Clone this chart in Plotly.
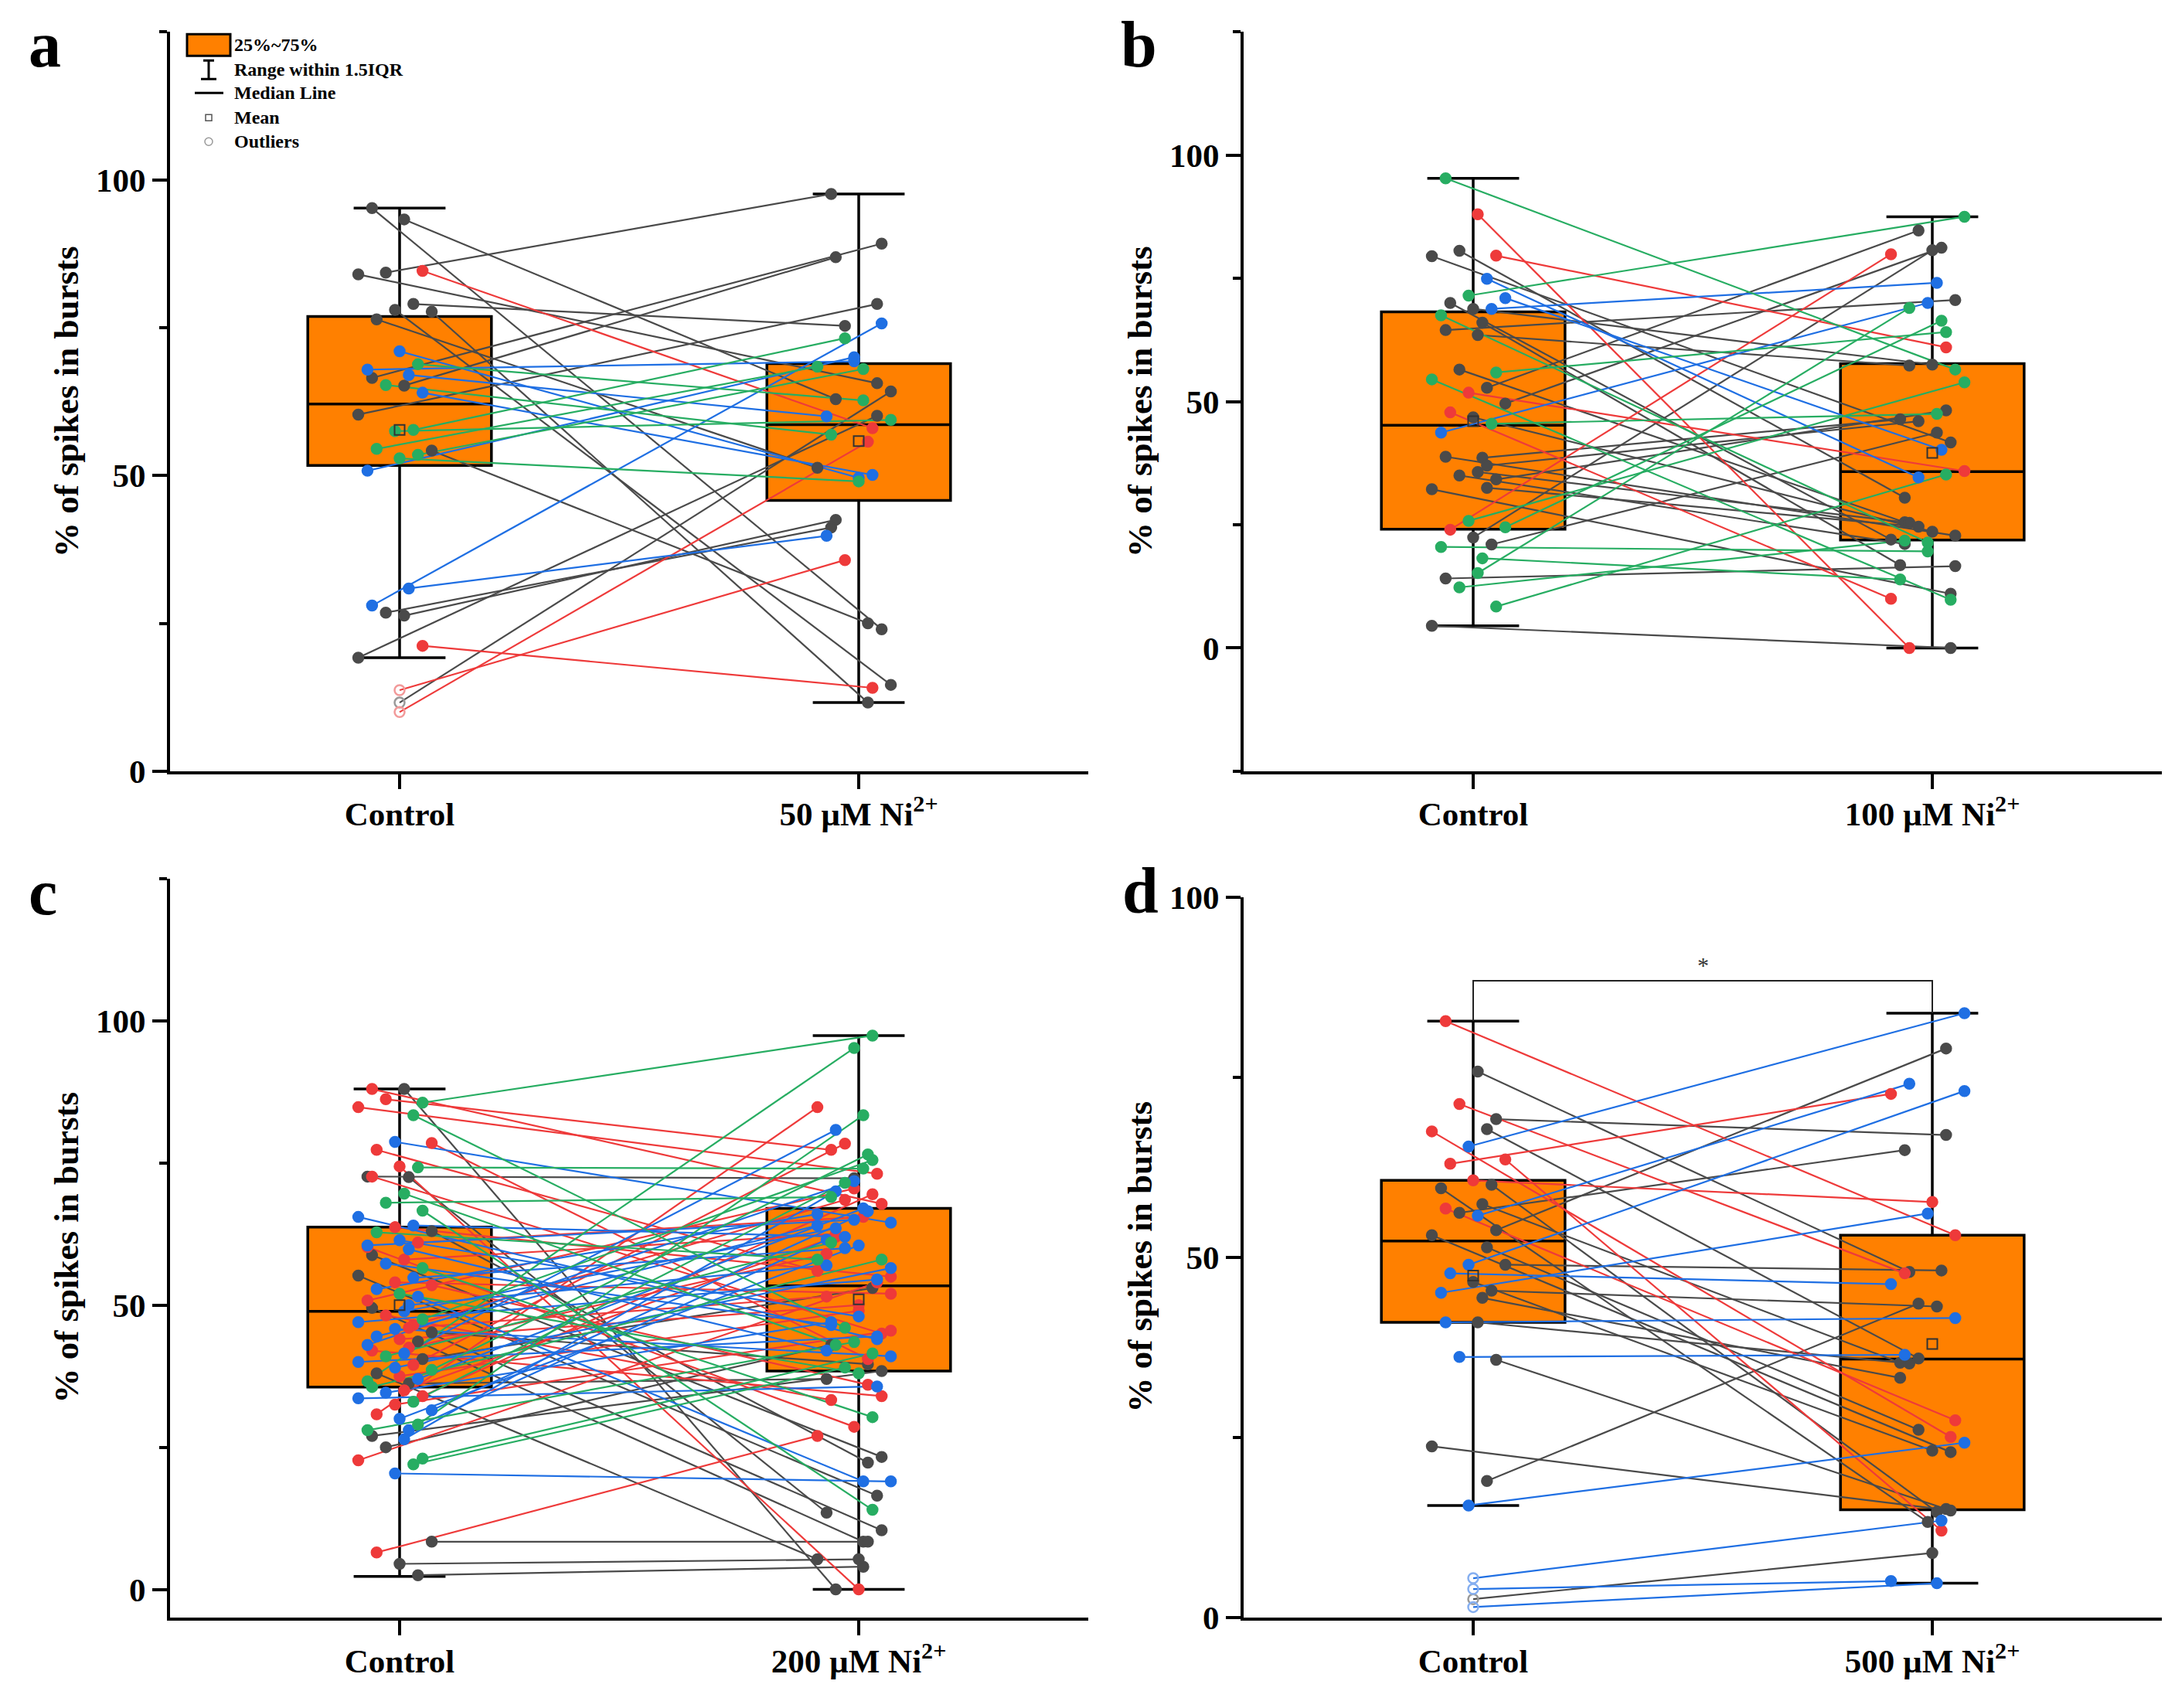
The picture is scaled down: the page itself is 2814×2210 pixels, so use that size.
import plotly.graph_objects as go

W = 2814
FIG_H = 2227          # figure height that fills the photographed page
Y_SCALE = 1.0211      # reference pixel -> figure pixel, vertical
Y_SHIFT = 29.3
FONT = "Liberation Serif"
ORANGE = "#ff8000"

# colour codes per cell: k = gray, r = red, b = blue, g = green
COLORS = {"k": "#4a4a4a", "r": "#ee3a3a", "b": "#1f6fe3", "g": "#27ad62"}
OUT_COLORS = {"k": "#9a9a9a", "r": "#f29a9a", "b": "#86aff0", "g": "#8fd6ae"}

# ---------------- panel a : 50 uM ----------------
A_LABELS = ["Control", "50 µM Ni<sup>2+</sup>"]
A_CTRL = [95.2, 93.3, 84.3, 84.6, 84.0, 79.0, 78.0, 77.7, 76.4, 71.0, 68.8, 67.9,
          67.0, 66.5, 65.2, 65.3, 64.0, 60.3, 57.7, 57.5, 54.2, 54.5, 52.9, 53.5,
          50.8, 30.9, 28.0, 26.3, 26.8, 21.2, 19.2, 13.7, 11.6, 10.0]
A_TRT = [24.0, 62.9, 97.6, 58.0, 65.6, 75.3, 14.6, 11.6, 51.3, 49.6, 62.7, 69.3,
         60.0, 89.2, 86.9, 56.9, 50.1, 79.0, 73.2, 59.4, 25.0, 68.4, 49.0, 68.0,
         70.0, 39.8, 75.7, 42.5, 41.2, 14.1, 60.1, 35.7, 64.2, 55.7]
A_COL = "kkkrkkkkkbgbbkkgbkggkgggbbbkkrkrkr"
A_Q1 = [51.7, 45.8]
A_MED = [62.1, 58.6]
A_Q3 = [76.9, 68.9]
A_LO = [19.2, 11.6]
A_HI = [95.2, 97.6]
A_MEAN = [57.7, 55.8]

# ---------------- panel b : 100 uM ----------------
B_LABELS = ["Control", "100 µM Ni<sup>2+</sup>"]
B_CTRL = [95.3, 88.0, 80.6, 79.6, 79.5, 74.9, 71.5, 71.0, 70.0, 68.8, 68.8, 67.5,
          66.0, 64.5, 63.5, 56.5, 55.9, 54.5, 52.8, 51.8, 49.6, 47.8, 46.8, 45.5,
          43.7, 38.6, 38.8, 35.7, 35.0, 34.2, 32.2, 32.5, 25.8, 24.5, 24.0, 22.4,
          21.0, 20.5, 18.2, 14.1, 15.2, 12.3, 8.4, 4.5, 37.0]
B_TRT = [56.5, 0.0, 30.5, 61.0, 41.7, 34.6, 87.5, 40.2, 22.0, 57.5, 74.1, 21.4,
         16.8, 70.6, 57.3, 25.5, 64.1, 9.8, 84.7, 35.9, 81.2, 10.0, 23.6, 47.5,
         70.0, 46.4, 22.8, 25.4, 21.1, 48.2, 11.0, 24.6, 53.9, 66.4, 79.9, 80.7,
         43.7, 19.6, 13.9, 16.6, 69.0, 21.8, 35.2, 0.0, 46.0]
B_COL = "grkrkbgbkkbgkkkkggkrkrkgbkkkkkkkggrkkggkgggkk"
B_Q1 = [24.1, 21.9]
B_MED = [45.2, 35.8]
B_Q3 = [68.2, 57.7]
B_LO = [4.5, 0.0]
B_HI = [95.3, 87.5]
B_MEAN = [46.0, 39.6]

# ---------------- panel c : 200 uM ----------------
C_LABELS = ["Control", "200 µM Ni<sup>2+</sup>"]
C_CTRL = [88.0, 88.0, 86.2, 85.6, 84.8, 83.4, 78.7, 78.5, 77.3, 74.4, 74.2, 72.6,
          72.5, 72.6, 69.6, 68.0, 66.6, 65.5, 64.0, 63.7, 63.0, 62.8, 61.4, 61.0,
          60.2, 59.8, 58.8, 58.0, 57.3, 56.5, 55.2, 54.8, 54.0, 53.5, 52.8, 52.0,
          51.5, 50.8, 50.0, 49.5, 48.9, 48.2, 47.5, 47.0, 46.5, 45.8, 45.2, 44.5,
          44.0, 43.6, 43.0, 42.5, 42.0, 41.5, 41.0, 40.5, 40.0, 39.5, 39.0, 38.6,
          38.0, 37.5, 37.0, 36.6, 36.2, 35.6, 35.0, 34.6, 34.0, 33.6, 33.0, 32.5,
          31.5, 30.8, 30.0, 29.0, 28.0, 28.0, 27.0, 26.4, 25.0, 23.0, 22.7, 22.0,
          20.4, 8.4, 6.5, 4.5, 2.5, 60.5, 46.0]
C_TRT = [67.8, 0.0, 77.3, 97.4, 73.1, 46.0, 64.5, 40.5, 56.0, 0.0, 74.0, 72.3,
         13.5, 45.0, 43.0, 69.0, 14.0, 44.0, 62.0, 55.0, 22.3, 58.0, 48.0, 65.5,
         28.6, 42.0, 23.3, 62.5, 46.5, 30.3, 16.5, 60.0, 52.0, 36.0, 66.0, 38.0,
         19.0, 70.5, 57.0, 10.4, 63.5, 33.3, 75.5, 54.5, 68.5, 41.0, 39.6, 64.0,
         50.0, 8.4, 71.8, 59.0, 34.0, 80.8, 61.0, 53.0, 44.5, 78.4, 56.5, 76.5,
         5.3, 49.0, 67.0, 95.2, 37.0, 58.0, 62.0, 47.0, 69.5, 35.7, 71.5, 45.5,
         66.5, 84.8, 60.5, 83.4, 43.5, 61.5, 38.4, 70.0, 43.0, 41.5, 54.0, 39.0,
         19.0, 8.4, 27.0, 5.3, 4.0, 65.0, 51.5]
C_COL = ("rkrgrgbrrrgkkrgggbbrkgbrrbkrbgkbrrbgbrbkbrgbrbkbrkbrrbgkbrbg"
         "krbgkgrbrbgrbrbggbkbkgrgbkrkkbr")
C_Q1 = [35.6, 38.4]
C_MED = [48.9, 53.4]
C_Q3 = [63.7, 67.0]
C_LO = [2.3, 0.0]
C_HI = [88.0, 97.4]
C_MEAN = [50.0, 51.0]

# ---------------- panel d : 500 uM ----------------
D_LABELS = ["Control", "500 µM Ni<sup>2+</sup>"]
D_CTRL = [82.8, 75.8, 71.3, 69.2, 67.5, 67.8, 65.4, 63.6, 63.0, 60.7, 60.1, 59.6,
          57.4, 56.8, 55.8, 56.2, 53.8, 53.1, 51.4, 49.0, 49.0, 47.8, 46.6, 45.4,
          45.1, 44.4, 41.0, 41.0, 36.2, 35.8, 23.8, 19.0, 15.6, 5.5, 4.0, 2.6, 1.5]
D_TRT = [53.1, 48.0, 47.8, 67.0, 25.1, 36.0, 83.9, 12.1, 72.7, 57.7, 14.7, 13.3,
         35.4, 27.4, 74.1, 64.9, 79.0, 23.0, 26.1, 73.1, 48.2, 46.3, 23.2, 43.2,
         56.1, 33.3, 41.6, 35.3, 36.5, 15.1, 14.9, 43.6, 24.3, 13.5, 5.1, 9.0, 4.8]
D_COL = "rkrkrkbrrrkkkrbkkkkbkbkkbkbkbkkkbbbkb"
D_Q1 = [41.0, 15.0]
D_MED = [52.3, 35.9]
D_Q3 = [60.7, 53.1]
D_LO = [15.6, 4.8]
D_HI = [82.8, 83.9]
D_MEAN = [47.5, 38.0]
D_BRACKET = 88.4

JIT = [-0.06, 0.01, -0.03, 0.05, -0.09, 0.03, -0.01, 0.07, -0.05, 0.0, 0.04, -0.07, 0.02]


def px(x):
    return x / W


def py(y):
    # y measured in pixels of the 2210-tall reference picture
    return 1 - (Y_SCALE * y - Y_SHIFT) / FIG_H


fig = go.Figure()


def add_panel(n, ctrl, trt, cols, q1, med, q3, lo, hi, mean):
    xa = "x" if n == 1 else f"x{n}"
    ya = "y" if n == 1 else f"y{n}"
    fig.add_trace(go.Box(
        x=[0, 1], q1=q1, median=med, q3=q3, lowerfence=lo, upperfence=hi,
        width=0.4, whiskerwidth=0.5, fillcolor=ORANGE, boxpoints=False,
        line=dict(color="black", width=3.5), xaxis=xa, yaxis=ya,
        showlegend=False, hoverinfo="skip"))

    pos = {}
    for i, (c, t) in enumerate(zip(ctrl, trt)):
        xc = 0 if c < lo[0] or c > hi[0] else JIT[i % len(JIT)]
        xt = 1 + (0 if t < lo[1] or t > hi[1] else JIT[(i * 5 + 3) % len(JIT)])
        pos[i] = (xc, xt)

    for key in "krbg":
        xs, ys = [], []
        for i, (c, t) in enumerate(zip(ctrl, trt)):
            if cols[i] != key:
                continue
            xs += [pos[i][0], pos[i][1], None]
            ys += [c, t, None]
        fig.add_trace(go.Scatter(x=xs, y=ys, mode="lines", xaxis=xa, yaxis=ya,
                                 line=dict(color=COLORS[key], width=2.2),
                                 showlegend=False, hoverinfo="skip"))

    for key in "krbg":
        xs, ys, sym, mc = [], [], [], []
        for i, (c, t) in enumerate(zip(ctrl, trt)):
            if cols[i] != key:
                continue
            for j, v in enumerate((c, t)):
                out = v < lo[j] or v > hi[j]
                xs.append(pos[i][j])
                ys.append(v)
                sym.append("circle-open" if out else "circle")
                mc.append(OUT_COLORS[key] if out else COLORS[key])
        fig.add_trace(go.Scatter(x=xs, y=ys, mode="markers", xaxis=xa, yaxis=ya,
                                 marker=dict(size=13, symbol=sym, color=mc,
                                             line=dict(width=2.5, color=mc)),
                                 showlegend=False, hoverinfo="skip"))

    fig.add_trace(go.Scatter(x=[0, 1], y=mean, mode="markers", xaxis=xa, yaxis=ya,
                             marker=dict(size=13, symbol="square-open", color="#333333",
                                         line=dict(width=2)),
                             showlegend=False, hoverinfo="skip"))


add_panel(1, A_CTRL, A_TRT, A_COL, A_Q1, A_MED, A_Q3, A_LO, A_HI, A_MEAN)
add_panel(2, B_CTRL, B_TRT, B_COL, B_Q1, B_MED, B_Q3, B_LO, B_HI, B_MEAN)
add_panel(3, C_CTRL, C_TRT, C_COL, C_Q1, C_MED, C_Q3, C_LO, C_HI, C_MEAN)
add_panel(4, D_CTRL, D_TRT, D_COL, D_Q1, D_MED, D_Q3, D_LO, D_HI, D_MEAN)

# significance bracket in panel d
fig.add_trace(go.Scatter(x=[0, 0, 1, 1], y=[D_HI[0], D_BRACKET, D_BRACKET, D_HI[1]],
                         mode="lines", xaxis="x4", yaxis="y4",
                         line=dict(color="#222222", width=2),
                         showlegend=False, hoverinfo="skip"))

tickfont = dict(family=FONT, size=43, color="black", weight="bold")
axis_common = dict(showline=True, linecolor="black", linewidth=4, ticks="outside",
                   ticklen=19, tickwidth=4, tickcolor="black", showgrid=False,
                   zeroline=False, tickfont=tickfont, mirror=False)

domains = {
    1: ([212, 1400], [39, 996], [0, 125], A_LABELS),
    2: ([1601, 2789], [39, 996], [-25, 125], B_LABELS),
    3: ([212, 1400], [1135, 2092], [-5, 125], C_LABELS),
    4: ([1601, 2789], [1159, 2092], [0, 100], D_LABELS),
}
for n, (xd, yd, yr, labels) in domains.items():
    sx = "" if n == 1 else str(n)
    fig.update_layout(**{
        f"xaxis{sx}": dict(axis_common, domain=[px(xd[0]), px(xd[1])], range=[-0.5, 1.5],
                          tickvals=[0, 1], ticktext=labels, ticklabelstandoff=-4,
                          anchor=f"y{sx}"),
        f"yaxis{sx}": dict(axis_common, domain=[py(yd[1]), py(yd[0])], range=yr,
                          tick0=0, dtick=50, anchor=f"x{sx}",
                          minor=dict(ticks="outside", ticklen=10, tickwidth=4,
                                     tickcolor="black", tick0=0, dtick=25)),
    })

annotations = []
# panel letters (y = bottom of text box, just under the glyph baseline)
for letter, x, y in [("a", 27, 104), ("b", 1440, 104), ("c", 27, 1201), ("d", 1442, 1199)]:
    annotations.append(dict(text=letter, x=px(x), y=py(y), xref="paper", yref="paper",
                            xanchor="left", yanchor="bottom", showarrow=False,
                            font=dict(family=FONT, size=84, color="black", weight="bold")))
# y titles
for x, y in [(78, 518), (1467, 518), (78, 1613), (1467, 1625)]:
    annotations.append(dict(text="% of spikes in bursts", x=px(x), y=py(y),
                            xref="paper", yref="paper", textangle=-90,
                            xanchor="center", yanchor="middle", showarrow=False,
                            font=dict(family=FONT, size=45, color="black", weight="bold")))
# star
annotations.append(dict(text="*", x=0.5, y=D_BRACKET, xref="x4", yref="y4",
                        yanchor="bottom", showarrow=False, yshift=2,
                        font=dict(family=FONT, size=30, color="#333333")))

# legend (panel a)
leg_font = dict(family=FONT, size=24, color="black", weight="bold")
for text, y in [("25%~75%", 56), ("Range within 1.5IQR", 88), ("Median Line", 118),
                ("Mean", 150), ("Outliers", 181)]:
    annotations.append(dict(text=text, x=px(293), y=py(y), xref="paper", yref="paper",
                            xanchor="left", yanchor="middle", showarrow=False,
                            font=leg_font))

shapes = [
    dict(type="rect", xref="paper", yref="paper", x0=px(234), x1=px(290), y0=py(70),
         y1=py(42), fillcolor=ORANGE, line=dict(color="black", width=3)),
    dict(type="line", xref="paper", yref="paper", x0=px(262), x1=px(262), y0=py(100),
         y1=py(76), line=dict(color="black", width=3)),
    dict(type="line", xref="paper", yref="paper", x0=px(255), x1=px(269), y0=py(76),
         y1=py(76), line=dict(color="black", width=3)),
    dict(type="line", xref="paper", yref="paper", x0=px(252), x1=px(272), y0=py(100),
         y1=py(100), line=dict(color="black", width=3)),
    dict(type="line", xref="paper", yref="paper", x0=px(244), x1=px(281), y0=py(118),
         y1=py(118), line=dict(color="black", width=3)),
    dict(type="rect", xref="paper", yref="paper", x0=px(258), x1=px(266), y0=py(154),
         y1=py(146), line=dict(color="#555555", width=1.5)),
    dict(type="circle", xref="paper", yref="paper", x0=px(257), x1=px(267), y0=py(186),
         y1=py(176), line=dict(color="#999999", width=1.5)),
]

fig.update_layout(width=W, height=FIG_H, margin=dict(l=0, r=0, t=0, b=0),
                  plot_bgcolor="white", paper_bgcolor="white",
                  annotations=annotations, shapes=shapes, showlegend=False)

fig.write_html("out.html")
